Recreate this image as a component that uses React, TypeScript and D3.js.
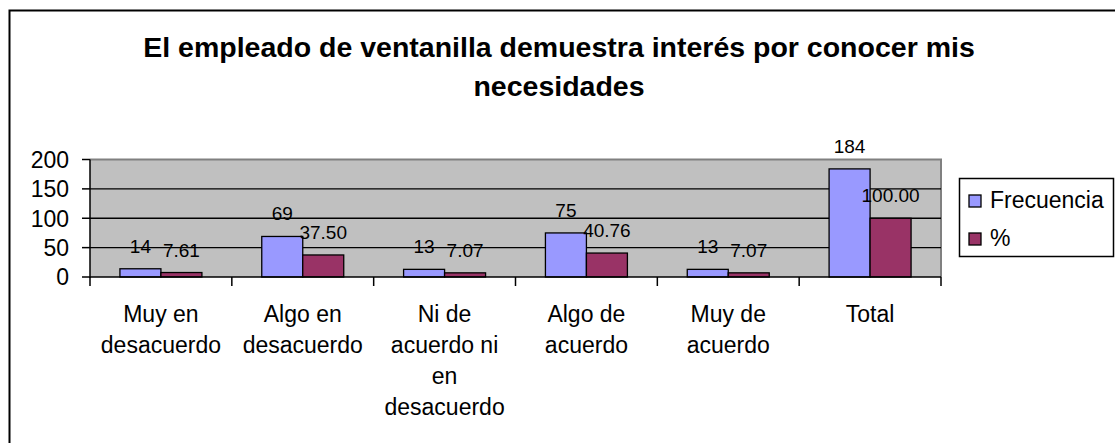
import {useEffect, useRef} from 'react'
import * as d3 from 'd3'

const categories = ['Muy en desacuerdo', 'Algo en desacuerdo', 'Ni de acuerdo ni en desacuerdo', 'Algo de acuerdo', 'Muy de acuerdo', 'Total']
const seriesNames = ['Frecuencia', '%']
const frecuencia = [14, 69, 13, 75, 13, 184]
const porcentaje = [7.61, 37.5, 7.07, 40.76, 7.07, 100]
const yTicks = [0, 50, 100, 150, 200]
const titleLines = ['El empleado de ventanilla demuestra interés por conocer mis', 'necesidades']

const colors = ['#9999FF', '#993366']
const FONT = '"Liberation Sans", Arial, sans-serif'

function wrap(text: string, maxWidth: number, font: string) {
    const ctx = document.createElement('canvas').getContext('2d')!
    ctx.font = font
    const words = text.split(' ')
    const lines: string[] = []
    let line = ''
    words.forEach((w) => {
        const test = line ? line + ' ' + w : w
        if (line && ctx.measureText(test).width > maxWidth) {
            lines.push(line)
            line = w
        } else {
            line = test
        }
    })
    if (line) lines.push(line)
    return lines
}

function App() {
    const svg = useRef<SVGSVGElement>(null)

    useEffect(() => {
        const left = 90, right = 941, top = 159.5, bottom = 277

        const x = d3.scaleBand().domain(categories).range([left, right])
        const xInner = d3.scaleBand().domain(seriesNames).range([0, x.bandwidth()]).paddingInner(0).paddingOuter(0.73)
        const y = d3.scaleLinear().domain([0, 200]).range([bottom, top])

        const root = d3.select(svg.current)
        root.selectAll('*').remove()

        // frame
        root.append('rect')
            .attr('x', 9.5).attr('y', 10.5).attr('width', 1200).attr('height', 600)
            .attr('fill', 'white').attr('stroke', 'black').attr('stroke-width', 2)

        // title
        root.append('g').selectAll('text')
            .data(titleLines)
            .join('text')
                .attr('x', 559)
                .attr('y', (d, i) => 57 + i * 39)
                .attr('text-anchor', 'middle')
                .style('font', `bold 28.5px ${FONT}`)
                .text(d => d)

        // plot background
        root.append('rect')
            .attr('x', left).attr('y', top).attr('width', right - left).attr('height', bottom - top)
            .attr('fill', '#C0C0C0')
        root.append('path')
            .attr('d', `M${left},${top}H${right}V${bottom}`)
            .attr('fill', 'none').attr('stroke', '#808080').attr('stroke-width', 2)

        // gridlines
        root.append('g').selectAll('line')
            .data(yTicks.filter(t => t > 0 && t < 200))
            .join('line')
                .attr('x1', left).attr('x2', right)
                .attr('y1', d => y(d)).attr('y2', d => y(d))
                .attr('stroke', 'black').attr('stroke-width', 1.3)

        // bars
        const data = categories.map((c, i) => ({cat: c, values: [frecuencia[i], porcentaje[i]]}))
        const groups = root.append('g').selectAll('g')
            .data(data)
            .join('g')
                .attr('transform', d => `translate(${x(d.cat)},0)`)
        groups.selectAll('rect')
            .data(d => d.values.map((v, j) => ({s: seriesNames[j], v, j})))
            .join('rect')
                .attr('x', d => xInner(d.s)!)
                .attr('y', d => y(d.v))
                .attr('width', xInner.bandwidth())
                .attr('height', d => bottom - y(d.v))
                .attr('fill', d => colors[d.j])
                .attr('stroke', 'black').attr('stroke-width', 1.3)

        // data labels
        groups.selectAll('text')
            .data(d => d.values.map((v, j) => ({s: seriesNames[j], v, j})))
            .join('text')
                .attr('x', d => xInner(d.s)! + xInner.bandwidth() / 2)
                .attr('y', d => y(d.v) - 16)
                .attr('text-anchor', 'middle')
                .style('font', `19px ${FONT}`)
                .text(d => d.j === 0 ? String(d.v) : d.v.toFixed(2))

        // axes
        const axis = root.append('g').attr('stroke', 'black').attr('stroke-width', 1.5)
        axis.append('line').attr('x1', left).attr('x2', left).attr('y1', top).attr('y2', bottom + 1)
        axis.append('line').attr('x1', left).attr('x2', right).attr('y1', bottom).attr('y2', bottom)
        axis.selectAll('.yt')
            .data(yTicks)
            .join('line')
                .attr('class', 'yt')
                .attr('x1', left - 8).attr('x2', left)
                .attr('y1', d => y(d)).attr('y2', d => y(d))
        const xTickPos = categories.map(c => x(c)!).concat([right])
        axis.selectAll('.xt')
            .data(xTickPos)
            .join('line')
                .attr('class', 'xt')
                .attr('x1', d => d).attr('x2', d => d)
                .attr('y1', bottom).attr('y2', bottom + 9)

        root.append('g').selectAll('text')
            .data(yTicks)
            .join('text')
                .attr('x', 69)
                .attr('y', d => y(d))
                .attr('dy', '0.36em')
                .attr('text-anchor', 'end')
                .style('font', `23px ${FONT}`)
                .text(d => d)

        // category labels
        const catFont = `23px ${FONT}`
        const catG = root.append('g').selectAll('text')
            .data(categories)
            .join('text')
                .attr('text-anchor', 'middle')
                .style('font', catFont)
        catG.selectAll('tspan')
            .data(d => wrap(d, 130, catFont).map(l => ({l, c: d})))
            .join('tspan')
                .attr('x', d => x(d.c)! + x.bandwidth() / 2)
                .attr('y', (d, i) => 322 + i * 31)
                .text(d => d.l)

        // legend
        const lg = root.append('g')
        lg.append('rect')
            .attr('x', 959.5).attr('y', 178.5).attr('width', 154).attr('height', 78)
            .attr('fill', 'white').attr('stroke', 'black').attr('stroke-width', 1.5)
        const items = lg.selectAll('g.item')
            .data(seriesNames)
            .join('g')
                .attr('class', 'item')
                .attr('transform', (d, i) => `translate(969,${195 + i * 38})`)
        items.append('rect')
            .attr('width', 12).attr('height', 12)
            .attr('fill', (d, i) => colors[i])
            .attr('stroke', 'black').attr('stroke-width', 1.3)
        items.append('text')
            .attr('x', 21).attr('y', 13)
            .style('font', `23px ${FONT}`)
            .text(d => d)
    }, [])

    return (
        <svg ref={svg} width={1115} height={443} style={{position: 'absolute', left: 0, top: 0}}></svg>
    )
}

export default App
